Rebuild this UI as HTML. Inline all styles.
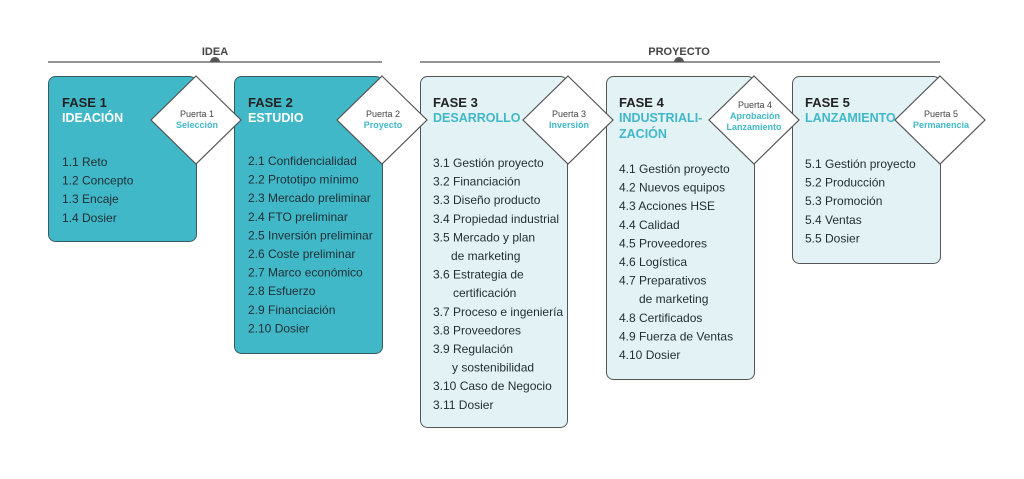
<!DOCTYPE html>
<html><head><meta charset="utf-8"><style>
body{margin:0;background:#fff}
svg{display:block}
text{font-family:"Liberation Sans",sans-serif}
.t{font-size:12px;fill:#1f2d33}
.f{font-size:13px;font-weight:bold;fill:#222}
.s{font-size:12.5px;font-weight:bold}
.p{font-size:9px;fill:#444}
.q{font-size:9px;font-weight:bold;fill:#41b8c8}
</style></head><body>
<svg width="1024" height="479" viewBox="0 0 1024 479">
<line x1="48" y1="62" x2="382" y2="62" stroke="#555" stroke-width="1.3"/>
<path d="M210 62 a5 5 0 0 1 10 0z" fill="#555"/>
<text x="215" y="55" text-anchor="middle" font-size="11" font-weight="bold" fill="#444">IDEA</text>
<line x1="420" y1="62" x2="940" y2="62" stroke="#555" stroke-width="1.3"/>
<path d="M674 62 a5 5 0 0 1 10 0z" fill="#555"/>
<text x="679" y="55" text-anchor="middle" font-size="11" font-weight="bold" fill="#444">PROYECTO</text>

<rect x="48.5" y="76.5" width="148" height="165" rx="7" fill="#41b8c8" stroke="#3a5a60"/>
<rect x="234.5" y="76.5" width="148" height="277" rx="7" fill="#41b8c8" stroke="#3a5a60"/>
<rect x="420.5" y="76.5" width="147" height="351" rx="7" fill="#e3f2f5" stroke="#555"/>
<rect x="606.5" y="76.5" width="148" height="303" rx="7" fill="#e3f2f5" stroke="#555"/>
<rect x="792.5" y="76.5" width="148" height="187" rx="7" fill="#e3f2f5" stroke="#555"/>

<g fill="#fff" stroke="#555" stroke-width="1.2">
<polygon points="196,76 241,120 196,164 151,120"/>
<polygon points="382,76 427,120 382,164 337,120"/>
<polygon points="568,76 613,120 568,164 523,120"/>
<polygon points="754,76 799,120 754,164 709,120"/>
<polygon points="940,76 985,120 940,164 895,120"/>
</g>
<g text-anchor="middle">
<text class="p" x="197" y="117">Puerta 1</text><text class="q" x="197" y="128">Selección</text>
<text class="p" x="383" y="117">Puerta 2</text><text class="q" x="383" y="128">Proyecto</text>
<text class="p" x="569" y="117">Puerta 3</text><text class="q" x="569" y="128">Inversión</text>
<text class="p" x="755" y="108">Puerta 4</text><text class="q" x="755" y="119">Aprobación</text><text class="q" x="754" y="130">Lanzamiento</text>
<text class="p" x="941" y="117">Puerta 5</text><text class="q" x="941" y="128">Permanencia</text>
</g>

<text class="f" x="62" y="107">FASE 1</text><text class="s" x="62" y="122" fill="#fff">IDEACIÓN</text>
<text class="f" x="248" y="107">FASE 2</text><text class="s" x="248" y="122" fill="#fff">ESTUDIO</text>
<text class="f" x="433" y="107">FASE 3</text><text class="s" x="433" y="122" fill="#41b8c8">DESARROLLO</text>
<text class="f" x="619" y="107">FASE 4</text><text class="s" x="619" y="122" fill="#41b8c8">INDUSTRIALI-</text><text class="s" x="619" y="138" fill="#41b8c8">ZACIÓN</text>
<text class="f" x="805" y="107">FASE 5</text><text class="s" x="805" y="122" fill="#41b8c8">LANZAMIENTO</text>

<g class="t">
<text x="62" y="166">1.1 Reto</text><text x="62" y="184.6">1.2 Concepto</text><text x="62" y="203.2">1.3 Encaje</text><text x="62" y="221.8">1.4 Dosier</text>

<text x="248" y="165">2.1 Confidencialidad</text><text x="248" y="183.6">2.2 Prototipo mínimo</text><text x="248" y="202.2">2.3 Mercado preliminar</text><text x="248" y="220.8">2.4 FTO preliminar</text><text x="248" y="239.4">2.5 Inversión preliminar</text><text x="248" y="258">2.6 Coste preliminar</text><text x="248" y="276.6">2.7 Marco económico</text><text x="248" y="295.2">2.8 Esfuerzo</text><text x="248" y="313.8">2.9 Financiación</text><text x="248" y="332.4">2.10 Dosier</text>

<text x="433" y="167">3.1 Gestión proyecto</text><text x="433" y="185.6">3.2 Financiación</text><text x="433" y="204.2">3.3 Diseño producto</text><text x="433" y="222.8">3.4 Propiedad industrial</text><text x="433" y="241.4">3.5 Mercado y plan</text><text x="451" y="260">de marketing</text><text x="433" y="278.6">3.6 Estrategia de</text><text x="453" y="297.2">certificación</text><text x="433" y="315.8">3.7 Proceso e ingeniería</text><text x="433" y="334.4">3.8 Proveedores</text><text x="433" y="353">3.9 Regulación</text><text x="452" y="371.6">y sostenibilidad</text><text x="433" y="390.2">3.10 Caso de Negocio</text><text x="433" y="408.8">3.11 Dosier</text>

<text x="619" y="173">4.1 Gestión proyecto</text><text x="619" y="191.6">4.2 Nuevos equipos</text><text x="619" y="210.2">4.3 Acciones HSE</text><text x="619" y="228.8">4.4 Calidad</text><text x="619" y="247.4">4.5 Proveedores</text><text x="619" y="266">4.6 Logística</text><text x="619" y="284.6">4.7 Preparativos</text><text x="639" y="303.2">de marketing</text><text x="619" y="321.8">4.8 Certificados</text><text x="619" y="340.4">4.9 Fuerza de Ventas</text><text x="619" y="359">4.10 Dosier</text>

<text x="805" y="168">5.1 Gestión proyecto</text><text x="805" y="186.6">5.2 Producción</text><text x="805" y="205.2">5.3 Promoción</text><text x="805" y="223.8">5.4 Ventas</text><text x="805" y="242.4">5.5 Dosier</text>
</g>
</svg>
</body></html>
